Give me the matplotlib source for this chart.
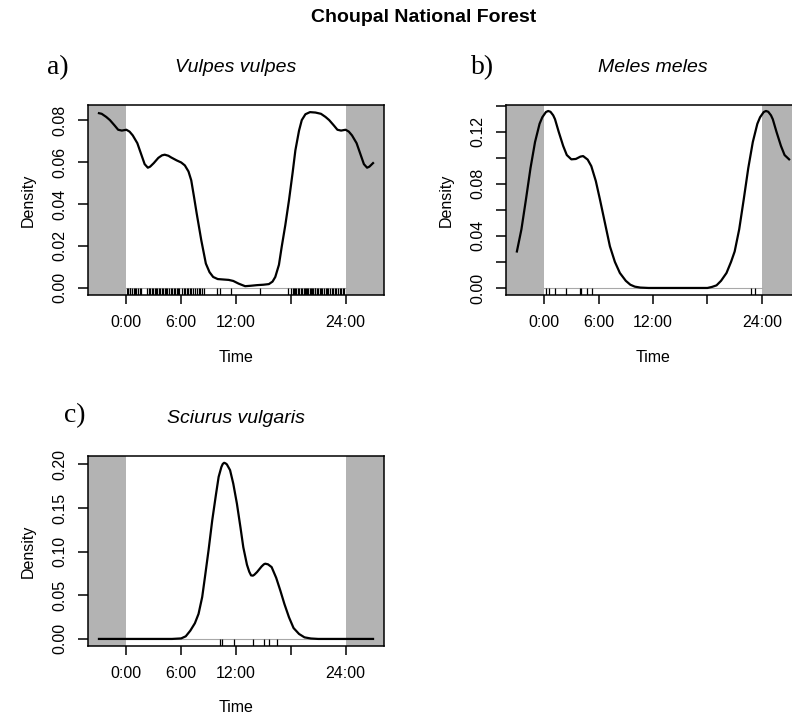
import matplotlib.pyplot as plt
import numpy as np

plt.rcParams['font.family'] = ['Liberation Sans', 'DejaVu Sans']

# Density curves (hour of day, density), 0..24 h
hours_vulpes = [0.0, 0.35, 0.7, 1.2, 1.6, 2.0, 2.35, 2.6, 3.0, 3.5, 3.9, 4.2, 4.6, 4.9, 5.5, 6.0, 6.4,
                6.8, 7.1, 7.4, 7.7, 8.2, 8.7, 9.1, 9.5, 10.0, 10.6, 11.2, 11.7, 12.3, 13.0, 13.6, 14.3,
                15.0, 15.6, 16.0, 16.3, 16.7, 17.0, 17.4, 17.8, 18.2, 18.5, 18.9, 19.2, 19.6, 20.1,
                20.7, 21.0, 21.3, 21.8, 22.2, 22.7, 23.1, 23.5, 24.0]
dens_vulpes = [0.0754, 0.0745, 0.0727, 0.0690, 0.0640, 0.0590, 0.0573, 0.0578, 0.0595, 0.0620, 0.0632,
               0.0635, 0.0630, 0.0622, 0.0608, 0.0598, 0.0584, 0.0555, 0.0513, 0.0435, 0.0354, 0.0227,
               0.0116, 0.0075, 0.0052, 0.0042, 0.0040, 0.0038, 0.0033, 0.0020, 0.0008, 0.0010, 0.0013,
               0.0015, 0.0018, 0.0030, 0.0052, 0.0110, 0.0195, 0.0300, 0.0418, 0.0550, 0.0656, 0.0750,
               0.0800, 0.0828, 0.0838, 0.0836, 0.0833, 0.0830, 0.0815, 0.0800, 0.0775, 0.0754, 0.0750,
               0.0754]

hours_meles = [0.0, 0.2, 0.45, 0.7, 1.0, 1.2, 1.6, 2.1, 2.5, 3.0, 3.5, 4.0, 4.3, 4.8, 5.2, 5.7, 6.15,
               6.7, 7.25, 7.8, 8.35, 9.0, 9.5, 10.0, 10.6, 11.5, 18.0, 18.5, 19.0, 19.5, 20.1, 20.6,
               21.0, 21.5, 22.0, 22.5, 23.0, 23.5, 23.8, 24.0]
dens_meles = [0.133, 0.1350, 0.1358, 0.1352, 0.1325, 0.1295, 0.120, 0.109, 0.102, 0.0987, 0.0990,
              0.1008, 0.1012, 0.0985, 0.0935, 0.082, 0.068, 0.050, 0.032, 0.020, 0.0115, 0.0055, 0.0025,
              0.0010, 0.0003, 0.0, 0.0, 0.0008, 0.002, 0.0055, 0.0115, 0.020, 0.028, 0.045, 0.068,
              0.092, 0.112, 0.126, 0.131, 0.133]

hours_sciurus = [0.0, 3.0, 5.0, 6.0, 6.5, 7.0, 7.5, 7.9, 8.3, 8.6, 9.0, 9.4, 9.8, 10.1, 10.4, 10.55,
                 10.7, 10.85, 11.0, 11.35, 11.7, 12.1, 12.5, 12.8, 13.2, 13.45, 13.65, 13.85, 14.0,
                 14.3, 14.8, 15.05, 15.2, 15.5, 15.9, 16.4, 16.85, 17.3, 17.8, 18.3, 18.9, 19.5, 20.2,
                 21.0, 24.0]
dens_sciurus = [0.0, 0.0, 0.0, 0.0006, 0.003, 0.0095, 0.018, 0.0287, 0.048, 0.0708, 0.102, 0.136, 0.165,
                0.1857, 0.197, 0.2005, 0.2018, 0.2012, 0.200, 0.1934, 0.178, 0.155, 0.127, 0.105, 0.085,
                0.0770, 0.0728, 0.0725, 0.0735, 0.0766, 0.083, 0.0855, 0.0862, 0.0855, 0.0823, 0.070,
                0.0555, 0.040, 0.0248, 0.0125, 0.0057, 0.0018, 0.0005, 0.0, 0.0]

# Detection times (rug)
rug_vulpes = [0.05, 0.2, 0.35, 0.45, 0.6, 0.8, 0.95, 1.1, 1.3, 1.45, 1.55, 2.3, 2.45, 2.6, 2.8, 2.95,
              3.1, 3.2, 3.4, 3.55, 3.7, 3.85, 4.0, 4.2, 4.35, 4.5, 4.7, 4.85, 5.0, 5.2, 5.35, 5.5,
              5.6, 5.8, 6.1, 6.3, 6.45, 6.6, 6.8, 6.95, 7.1, 7.3, 7.5, 7.7, 7.9, 8.1, 8.25,
              8.45, 9.9, 10.2, 11.4, 14.6, 17.7,
              18.05, 18.2, 18.35, 18.5, 18.6, 18.8, 18.95, 19.1, 19.25, 19.4, 19.5, 19.65, 19.8,
              19.9, 20.05, 20.2, 20.3, 20.45, 20.6, 20.7, 20.85, 21.0, 21.15, 21.3, 21.45, 21.6,
              21.8, 21.95, 22.1, 22.3, 22.5, 22.65, 22.8, 23.0, 23.15, 23.35, 23.5, 23.7, 23.85]
rug_meles = [0.25, 0.55, 1.15, 2.4, 3.9, 4.1, 4.7, 5.25, 22.8, 23.2]
rug_sciurus = [10.2, 10.45, 11.8, 13.9, 15.05, 15.6, 16.5]

time_ticks = [0, 6, 12, 18, 24]
time_labels = ['0:00', '6:00', '12:00', '', '24:00']

fig = plt.figure(figsize=(7.92, 7.18), dpi=100)
W, H = 792, 718

NARROW = ['Liberation Sans Narrow', 'Liberation Sans', 'DejaVu Sans']


def panel(rect, letter, letter_xy, name, hours, dens, rug, ylim, yticks, ylabels):
    x0, y0, x1, y1 = rect
    ax = fig.add_axes([x0 / W, 1 - y1 / H, (x1 - x0) / W, (y1 - y0) / H])
    hours = np.array(hours)
    dens = np.array(dens)
    # circular: repeat 21-24h before midnight and 0-3h after
    pre = hours >= 21
    post = hours <= 3
    xx = np.concatenate([hours[pre] - 24, hours, hours[post] + 24])
    yy = np.concatenate([dens[pre], dens, dens[post]])

    ax.axvspan(-4.2, 0, color='#b3b3b3', lw=0)
    ax.axvspan(24, 28.2, color='#b3b3b3', lw=0)
    ax.plot([0, 24], [0, 0], color='#a8a8a8', lw=0.8)
    ax.vlines(rug, ylim[0], 0, color='black', lw=0.9)
    ax.plot(xx, yy, color='black', lw=1.6, solid_joinstyle='round')

    ax.set_xlim(-4.2, 28.2)
    ax.set_ylim(*ylim)
    ax.set_xticks(time_ticks)
    ax.set_xticklabels(time_labels, fontsize=11.5)
    ax.set_yticks(yticks)
    ax.set_yticklabels(ylabels, rotation=90, va='center', fontsize=11.5, fontfamily=NARROW)
    ax.tick_params(axis='x', length=6.5, width=1.1, pad=8)
    ax.tick_params(axis='y', length=7.5, width=1.1, pad=7)
    for s in ax.spines.values():
        s.set_linewidth(1.1)

    h = y1 - y0
    ax.text(0.5, 1 + 37 / h, name, transform=ax.transAxes, ha='center', va='center',
            fontsize=14, style='italic')
    ax.text(0.5, -62 / h, 'Time', transform=ax.transAxes, ha='center', va='center', fontsize=11.5)
    ax.text(-60 / (x1 - x0), 0.5, 'Density', transform=ax.transAxes, ha='center', va='center',
            rotation=90, fontsize=11.5, fontfamily=NARROW)
    fig.text(letter_xy[0] / W, 1 - letter_xy[1] / H, letter, ha='center', va='center',
             fontsize=20, fontfamily=['Liberation Serif', 'DejaVu Serif'])
    return ax


panel((88, 105, 384, 295), 'a)', (58, 68), 'Vulpes vulpes', hours_vulpes, dens_vulpes, rug_vulpes,
      (-0.0034, 0.0872), [0, 0.02, 0.04, 0.06, 0.08], ['0.00', '0.02', '0.04', '0.06', '0.08'])
panel((506, 105, 800, 295), 'b)', (483, 68), 'Meles meles', hours_meles, dens_meles, rug_meles,
      (-0.0054, 0.1404), [0, 0.02, 0.04, 0.06, 0.08, 0.10, 0.12, 0.14],
      ['0.00', '', '0.04', '', '0.08', '', '0.12', ''])
panel((88, 456, 384, 646), 'c)', (75, 416), 'Sciurus vulgaris', hours_sciurus, dens_sciurus, rug_sciurus,
      (-0.0081, 0.2096), [0, 0.05, 0.10, 0.15, 0.20], ['0.00', '0.05', '0.10', '0.15', '0.20'])

fig.text(424 / W, 1 - 17 / H, 'Choupal National Forest', ha='center', va='center',
         fontsize=14, weight='bold')

plt.savefig('out.png')
